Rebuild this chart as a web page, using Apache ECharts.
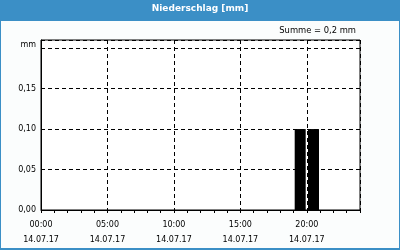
<!DOCTYPE html>
<html>
<head>
<meta charset="utf-8">
<script src="https://cdn.jsdelivr.net/npm/echarts@6/dist/echarts.min.js"></script>
<style>
html,body{margin:0;padding:0;background:#fff;}
#chart{width:400px;height:250px;}
</style>
</head>
<body>
<div id="chart"></div>
<script>
const chartTitle = 'Niederschlag [mm]';
const sumText = 'Summe = 0,2 mm';
const unitLabel = 'mm';
const dateLabel = '14.07.17';
const xTickHours = [0, 5, 10, 15, 20];
const yTickValues = [0, 0.05, 0.10, 0.15, 0.20];
const hours = [0,1,2,3,4,5,6,7,8,9,10,11,12,13,14,15,16,17,18,19,20,21,22,23];
const precipMm = [0,0,0,0,0,0,0,0,0,0,0,0,0,0,0,0,0,0,0,0.1,0.1,0,0,0];

const FONT = 'DejaVu Sans';
const chart = echarts.init(document.getElementById('chart'), null, {renderer: 'canvas'});

function pad2(n){ return (n < 10 ? '0' : '') + n; }

chart.setOption({
  animation: false,
  backgroundColor: '#3b8fc6',
  textStyle: {fontFamily: FONT},
  graphic: [{
    type: 'rect', z: -100, silent: true,
    shape: {x: 1, y: 21, width: 398, height: 227},
    style: {fill: '#fbfdfd'}
  }],
  title: [{
    text: chartTitle, left: 'center', top: 4, padding: 0,
    textStyle: {color: '#ffffff', fontFamily: FONT, fontSize: 9, fontWeight: 'bold'}
  }, {
    text: sumText, right: 44, top: 27, padding: 0,
    textStyle: {color: '#000000', fontFamily: FONT, fontSize: 8.4, fontWeight: 'normal'}
  }],
  grid: {
    left: 41, top: 40, width: 319, height: 170,
    show: true, borderColor: '#000', borderWidth: 1, backgroundColor: '#ffffff'
  },
  xAxis: [{
    type: 'value', min: 0, max: 24, interval: 5, position: 'bottom',
    axisLine: {show: true, lineStyle: {color: '#000', width: 1}},
    axisTick: {show: false},
    splitLine: {show: true, lineStyle: {color: '#000', type: [4, 3], width: 1}},
    axisLabel: {
      show: true, showMaxLabel: false, margin: 7,
      color: '#000', fontFamily: FONT, fontSize: 8, lineHeight: 15,
      formatter: function(v){
        if (xTickHours.indexOf(v) < 0) return '';
        return pad2(v) + ':00\n' + dateLabel;
      }
    }
  }, {
    type: 'value', min: 0, max: 24, interval: 1, position: 'bottom',
    axisLine: {show: false},
    axisTick: {show: true, length: 3, lineStyle: {color: '#000', width: 1}},
    splitLine: {show: false},
    axisLabel: {show: false}
  }],
  yAxis: {
    type: 'value', min: 0, max: 0.21, interval: 0.05,
    axisLine: {show: true, lineStyle: {color: '#000', width: 1}},
    axisTick: {show: false},
    splitLine: {show: true, lineStyle: {color: '#000', type: [4, 3], width: 1}},
    axisLabel: {
      show: true, margin: 5, showMaxLabel: false,
      color: '#000', fontFamily: FONT, fontSize: 8,
      formatter: function(v){
        for (let i = 0; i < yTickValues.length; i++) {
          if (Math.abs(v - yTickValues[i]) < 1e-6) {
            if (i === yTickValues.length - 1) return '{u|' + unitLabel + '}';
            return v.toFixed(2).replace('.', ',');
          }
        }
        return '';
      },
      rich: {u: {fontFamily: FONT, fontSize: 8, color: '#000', padding: [0, 0, 6, 0]}}
    }
  },
  series: [{
    type: 'bar', xAxisIndex: 0, barWidth: 11,
    itemStyle: {color: '#000'},
    data: hours.map(function(h, i){ return [h + 0.5, precipMm[i]]; })
  }]
});
</script>
</body>
</html>
